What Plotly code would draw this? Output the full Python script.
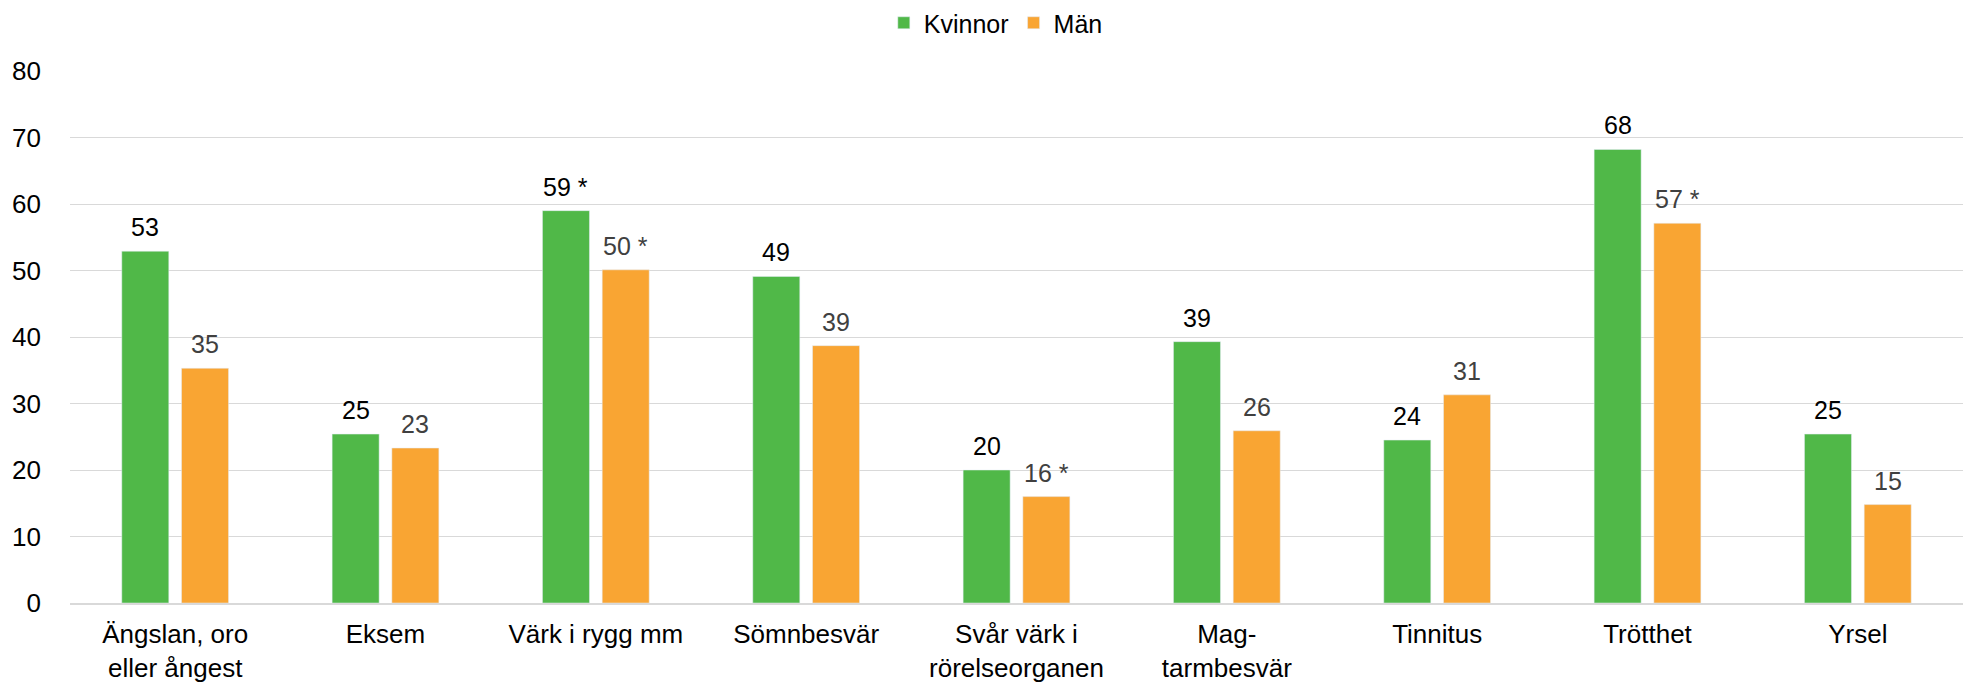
import plotly.graph_objects as go

categories = [
    "Ängslan, oro<br>eller ångest",
    "Eksem",
    "Värk i rygg mm",
    "Sömnbesvär",
    "Svår värk i<br>rörelseorganen",
    "Mag-<br>tarmbesvär",
    "Tinnitus",
    "Trötthet",
    "Yrsel",
]
kvinnor = [52.9, 25.4, 59.0, 49.1, 20.0, 39.3, 24.5, 68.2, 25.4]
man = [35.3, 23.3, 50.1, 38.7, 16.0, 25.9, 31.3, 57.1, 14.8]
kvinnor_labels = ["53", "25", "59 *", "49", "20", "39", "24", "68", "25"]
man_labels = ["35", "23", "50 *", "39", "16 *", "26", "31", "57 *", "15"]
yticks = [0, 10, 20, 30, 40, 50, 60, 70, 80]

GREEN = "#50B848"
ORANGE = "#F9A533"
FONT = "Liberation Sans, Arial, sans-serif"

fig = go.Figure()
fig.add_trace(go.Bar(name="Kvinnor", x=categories, y=kvinnor, marker_color=GREEN))
fig.add_trace(go.Bar(name="Män", x=categories, y=man, marker_color=ORANGE))

W, H = 1968, 685
ml, mr = 70, 5
plot_w = W - ml - mr
cat_w = plot_w / len(categories)
bargap = 0.432
slot = (1 - bargap) * cat_w / 2
shift = slot / 2

annotations = []
for c, v, t in zip(categories, kvinnor, kvinnor_labels):
    annotations.append(dict(x=c, y=v, text=t, showarrow=False, xref="x", yref="y",
                            xshift=-shift, yshift=8, yanchor="bottom",
                            font=dict(size=25, color="#000000", family=FONT)))
for c, v, t in zip(categories, man, man_labels):
    annotations.append(dict(x=c, y=v, text=t, showarrow=False, xref="x", yref="y",
                            xshift=shift, yshift=8, yanchor="bottom",
                            font=dict(size=25, color="#404040", family=FONT)))

fig.update_layout(
    width=W, height=H,
    margin=dict(l=ml, r=mr, t=71, b=82),
    paper_bgcolor="white", plot_bgcolor="white",
    barmode="group", bargap=bargap, bargroupgap=0.213,
    font=dict(family=FONT, size=25, color="#000000"),
    legend=dict(orientation="h", x=0.506, xanchor="center", xref="container",
                y=1.0, yanchor="top", yref="container",
                font=dict(size=25, color="#000000"),
                itemwidth=30, tracegroupgap=0),
    annotations=annotations,
    xaxis=dict(showgrid=False, showline=True, linecolor="#D9D9D9", linewidth=2,
               ticks="", ticklabelstandoff=7,
               tickfont=dict(size=26, color="#000000"), automargin=False),
    yaxis=dict(range=[0, 80], tickvals=yticks, showgrid=True, gridcolor="#D9D9D9",
               gridwidth=1.3, zeroline=False, showline=False, ticks="",
               ticklabelstandoff=28, tickfont=dict(size=26, color="#000000"),
               automargin=False),
)
fig.write_html("out.html", config={"displayModeBar": False},
               post_script="document.body.style.margin='0';document.body.style.overflow='hidden';")
